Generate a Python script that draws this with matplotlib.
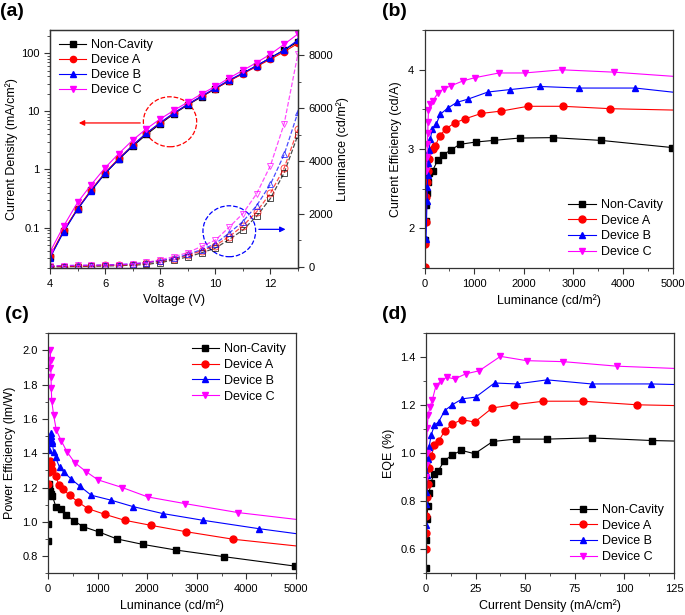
import matplotlib.pyplot as plt
from matplotlib.patches import Ellipse
from matplotlib.ticker import MultipleLocator, FuncFormatter, LogLocator, NullFormatter

plt.rcParams['font.family'] = ['Liberation Sans', 'DejaVu Sans']

# driving voltage, 4 V to 13 V in 0.5 V steps
voltage = [4.0, 4.5, 5.0, 5.5, 6.0, 6.5, 7.0, 7.5, 8.0, 8.5, 9.0, 9.5,
           10.0, 10.5, 11.0, 11.5, 12.0, 12.5, 13.0]

labels = ['Non-Cavity', 'Device A', 'Device B', 'Device C']
colors = ['black', 'red', 'blue', 'magenta']
markers = ['s', 'o', '^', 'v']

# current density (mA/cm2)
nc_j = [0.031, 0.087, 0.21, 0.44, 0.85, 1.5, 2.5, 4.0, 6.1, 9.1, 12.9, 17.8, 24.5, 33.6, 45.1, 61, 83.4, 114, 158]
a_j = [0.032, 0.09, 0.21, 0.45, 0.88, 1.55, 2.6, 4.2, 6.3, 9.3, 13.2, 18.1, 24.5, 33.4, 44.3, 59.1, 78.9, 106.5, 148]
b_j = [0.03, 0.085, 0.205, 0.43, 0.86, 1.5, 2.6, 4.2, 6.4, 9.4, 13.2, 18.3, 25.0, 34.5, 45.6, 61, 83.4, 113.3, 169]
c_j = [0.038, 0.107, 0.27, 0.55, 1.07, 1.88, 3.2, 5.0, 7.4, 10.4, 14.4, 20, 26.8, 37.5, 50.7, 69.1, 96.3, 143, 215]

# luminance (cd/m2)
nc_lum = [2, 5, 10, 18, 30, 45, 62, 90, 160, 262, 372, 530, 705, 1034, 1389, 1913, 2584, 3557, 4990]
a_lum = [5, 12, 22, 36, 52, 66, 87, 160, 215, 302, 436, 604, 805, 1141, 1544, 2081, 2785, 3738, 5200]
b_lum = [27, 47, 54, 60, 74, 87, 114, 154, 235, 315, 470, 651, 872, 1275, 1711, 2315, 3121, 4248, 5850]
c_lum = [34, 47, 54, 62, 67, 76, 114, 168, 268, 383, 537, 772, 1007, 1497, 2013, 2765, 3826, 5415, 8060]

# current efficiency (cd/A)
nc_ce = [1.13, 1.41, 1.85, 2.10, 2.29, 2.45, 2.58, 2.70, 2.73, 2.86, 2.93, 2.99, 3.06, 3.09, 3.11, 3.14, 3.145, 3.11, 3.02]
a_ce = [1.52, 1.80, 2.08, 2.40, 2.59, 2.73, 2.87, 3.0, 3.04, 3.17, 3.26, 3.33, 3.38, 3.45, 3.48, 3.54, 3.54, 3.51, 3.49]
b_ce = [1.87, 2.35, 2.52, 2.67, 2.82, 2.99, 3.13, 3.26, 3.32, 3.44, 3.52, 3.59, 3.63, 3.72, 3.75, 3.79, 3.77, 3.77, 3.66]
c_ce = [2.73, 2.9, 3.06, 3.2, 3.34, 3.49, 3.57, 3.61, 3.71, 3.76, 3.80, 3.86, 3.90, 3.96, 3.96, 4.0, 3.97, 3.90, 3.80]

# power efficiency (lm/W)
nc_pe = [0.89, 0.985, 1.21, 1.22, 1.20, 1.18, 1.165, 1.151, 1.087, 1.073, 1.038, 1.005, 0.972, 0.94, 0.90, 0.868, 0.835, 0.796, 0.741]
a_pe = [1.22, 1.29, 1.33, 1.356, 1.34, 1.31, 1.30, 1.27, 1.215, 1.19, 1.155, 1.116, 1.077, 1.044, 1.009, 0.979, 0.942, 0.898, 0.853]
b_pe = [1.42, 1.48, 1.52, 1.50, 1.47, 1.46, 1.41, 1.376, 1.317, 1.292, 1.249, 1.206, 1.155, 1.126, 1.089, 1.048, 1.009, 0.96, 0.898]
c_pe = [1.90, 2.0, 1.945, 1.844, 1.78, 1.707, 1.623, 1.536, 1.473, 1.409, 1.346, 1.292, 1.245, 1.2, 1.145, 1.106, 1.054, 1.0, 0.94]

# external quantum efficiency (%)
nc_eqe = [0.45, 0.522, 0.637, 0.725, 0.78, 0.836, 0.877, 0.915, 0.927, 0.967, 0.992, 1.012, 0.998, 1.049, 1.059, 1.059, 1.064, 1.053, 1.045]
a_eqe = [0.6, 0.668, 0.737, 0.818, 0.873, 0.94, 0.988, 1.033, 1.05, 1.092, 1.122, 1.14, 1.13, 1.189, 1.202, 1.217, 1.217, 1.202, 1.195]
b_eqe = [0.70, 0.79, 0.84, 0.91, 0.977, 1.026, 1.077, 1.116, 1.132, 1.178, 1.202, 1.227, 1.234, 1.293, 1.289, 1.306, 1.289, 1.289, 1.278]
c_eqe = [0.9, 0.95, 1.0, 1.105, 1.16, 1.192, 1.224, 1.282, 1.30, 1.317, 1.31, 1.331, 1.344, 1.404, 1.386, 1.382, 1.363, 1.348, 1.34]

all_j = [nc_j, a_j, b_j, c_j]
all_lum = [nc_lum, a_lum, b_lum, c_lum]
all_ce = [nc_ce, a_ce, b_ce, c_ce]
all_pe = [nc_pe, a_pe, b_pe, c_pe]
all_eqe = [nc_eqe, a_eqe, b_eqe, c_eqe]


def style_axis(ax):
    ax.tick_params(which='both', direction='out', labelsize=8, color='#333333')
    ax.tick_params(which='major', length=4)
    ax.tick_params(which='minor', length=2.5)
    for sp in ax.spines.values():
        sp.set_color('#333333')
        sp.set_linewidth(0.9)


def add_legend(ax, loc):
    ax.legend(loc=loc, frameon=False, fontsize=9, handlelength=2.2,
              labelspacing=0.3, borderaxespad=0.4, handletextpad=0.4)


fig = plt.figure(figsize=(6.85, 6.15), dpi=100)
ax_a = fig.add_axes([0.073, 0.564, 0.362, 0.387])
ax_b = fig.add_axes([0.620, 0.564, 0.362, 0.387])
ax_c = fig.add_axes([0.070, 0.068, 0.362, 0.390])
ax_d = fig.add_axes([0.622, 0.068, 0.362, 0.390])

# ---- (a) J-V-L
ax_a2 = ax_a.twinx()
for j, lum, col, mk, lab in zip(all_j, all_lum, colors, markers, labels):
    ax_a.plot(voltage, j, color=col, marker=mk, ms=4.5, lw=0.8, label=lab)
    ax_a2.plot(voltage, lum, color=col, marker=mk, ms=5, lw=0.9, ls='--',
               mfc='none', mew=0.7, alpha=0.7)
ax_a.set_yscale('log')
ax_a.set_xlim(4, 13)
ax_a.set_ylim(0.02, 250)
ax_a2.set_ylim(-50, 8950)
ax_a.xaxis.set_major_locator(MultipleLocator(2))
ax_a.xaxis.set_minor_locator(MultipleLocator(1))
ax_a.yaxis.set_major_locator(LogLocator(base=10))
ax_a.yaxis.set_minor_locator(LogLocator(base=10, subs=range(2, 10)))
ax_a.yaxis.set_minor_formatter(NullFormatter())
ax_a.yaxis.set_major_formatter(FuncFormatter(lambda v, p: '{:g}'.format(v)))
ax_a2.yaxis.set_major_locator(MultipleLocator(2000))
ax_a2.yaxis.set_minor_locator(MultipleLocator(1000))
ax_a.set_xlabel('Voltage (V)', fontsize=9)
ax_a.set_ylabel('Current Density (mA/cm²)', fontsize=9, labelpad=2)
ax_a2.set_ylabel('Luminance (cd/m²)', fontsize=9, labelpad=2)
style_axis(ax_a)
style_axis(ax_a2)
ax_a.legend(loc='upper left', frameon=False, fontsize=9, handlelength=2.2,
            labelspacing=0.25, borderaxespad=0.3, handletextpad=0.4)
ax_a.add_patch(Ellipse((0.484, 0.615), 0.215, 0.21, transform=ax_a.transAxes,
                       fill=False, ec='red', ls='--', lw=0.9))
ax_a.annotate('', xy=(0.105, 0.61), xytext=(0.375, 0.61), xycoords='axes fraction',
              arrowprops=dict(arrowstyle='-|>', color='red', lw=0.9, mutation_scale=8))
ax_a.add_patch(Ellipse((0.723, 0.155), 0.2125, 0.214, transform=ax_a.transAxes,
                       fill=False, ec='blue', ls='--', lw=0.9))
ax_a.annotate('', xy=(0.961, 0.163), xytext=(0.831, 0.163), xycoords='axes fraction',
              arrowprops=dict(arrowstyle='-|>', color='blue', lw=0.9, mutation_scale=8))

# ---- (b) current efficiency
for lum, ce, col, mk, lab in zip(all_lum, all_ce, colors, markers, labels):
    ax_b.plot(lum, ce, color=col, marker=mk, ms=5, lw=0.8, label=lab)
ax_b.set_xlim(0, 5000)
ax_b.set_ylim(1.5, 4.5)
ax_b.xaxis.set_major_locator(MultipleLocator(1000))
ax_b.xaxis.set_minor_locator(MultipleLocator(500))
ax_b.yaxis.set_major_locator(MultipleLocator(1))
ax_b.yaxis.set_minor_locator(MultipleLocator(0.5))
ax_b.set_xlabel('Luminance (cd/m²)', fontsize=9)
ax_b.set_ylabel('Current Efficiency (cd/A)', fontsize=9)
style_axis(ax_b)
add_legend(ax_b, 'lower right')

# ---- (c) power efficiency
for lum, pe, col, mk, lab in zip(all_lum, all_pe, colors, markers, labels):
    ax_c.plot(lum, pe, color=col, marker=mk, ms=5, lw=0.8, label=lab)
ax_c.set_xlim(0, 5000)
ax_c.set_ylim(0.7, 2.1)
ax_c.xaxis.set_major_locator(MultipleLocator(1000))
ax_c.xaxis.set_minor_locator(MultipleLocator(500))
ax_c.yaxis.set_major_locator(MultipleLocator(0.2))
ax_c.yaxis.set_minor_locator(MultipleLocator(0.1))
ax_c.yaxis.set_major_formatter(FuncFormatter(lambda v, p: '%.1f' % v))
ax_c.set_xlabel('Luminance (cd/m²)', fontsize=9)
ax_c.set_ylabel('Power Efficiency (lm/W)', fontsize=9)
style_axis(ax_c)
add_legend(ax_c, 'upper right')

# ---- (d) EQE
for j, eqe, col, mk, lab in zip(all_j, all_eqe, colors, markers, labels):
    ax_d.plot(j, eqe, color=col, marker=mk, ms=5, lw=0.8, label=lab)
ax_d.set_xlim(0, 125)
ax_d.set_ylim(0.5, 1.5)
ax_d.xaxis.set_major_locator(MultipleLocator(25))
ax_d.xaxis.set_minor_locator(MultipleLocator(12.5))
ax_d.yaxis.set_major_locator(MultipleLocator(0.2))
ax_d.yaxis.set_minor_locator(MultipleLocator(0.1))
ax_d.yaxis.set_major_formatter(FuncFormatter(lambda v, p: '%.1f' % v))
ax_d.set_xlabel('Current Density (mA/cm²)', fontsize=9)
ax_d.set_ylabel('EQE (%)', fontsize=9)
style_axis(ax_d)
add_legend(ax_d, 'lower right')

# panel letters
for x, y, t in [(0.0, 0.995, '(a)'), (0.557, 0.995, '(b)'),
                (0.008, 0.503, '(c)'), (0.557, 0.503, '(d)')]:
    fig.text(x, y, t, fontsize=14, fontweight='bold', va='top')

fig.savefig('out.png', dpi=100)
